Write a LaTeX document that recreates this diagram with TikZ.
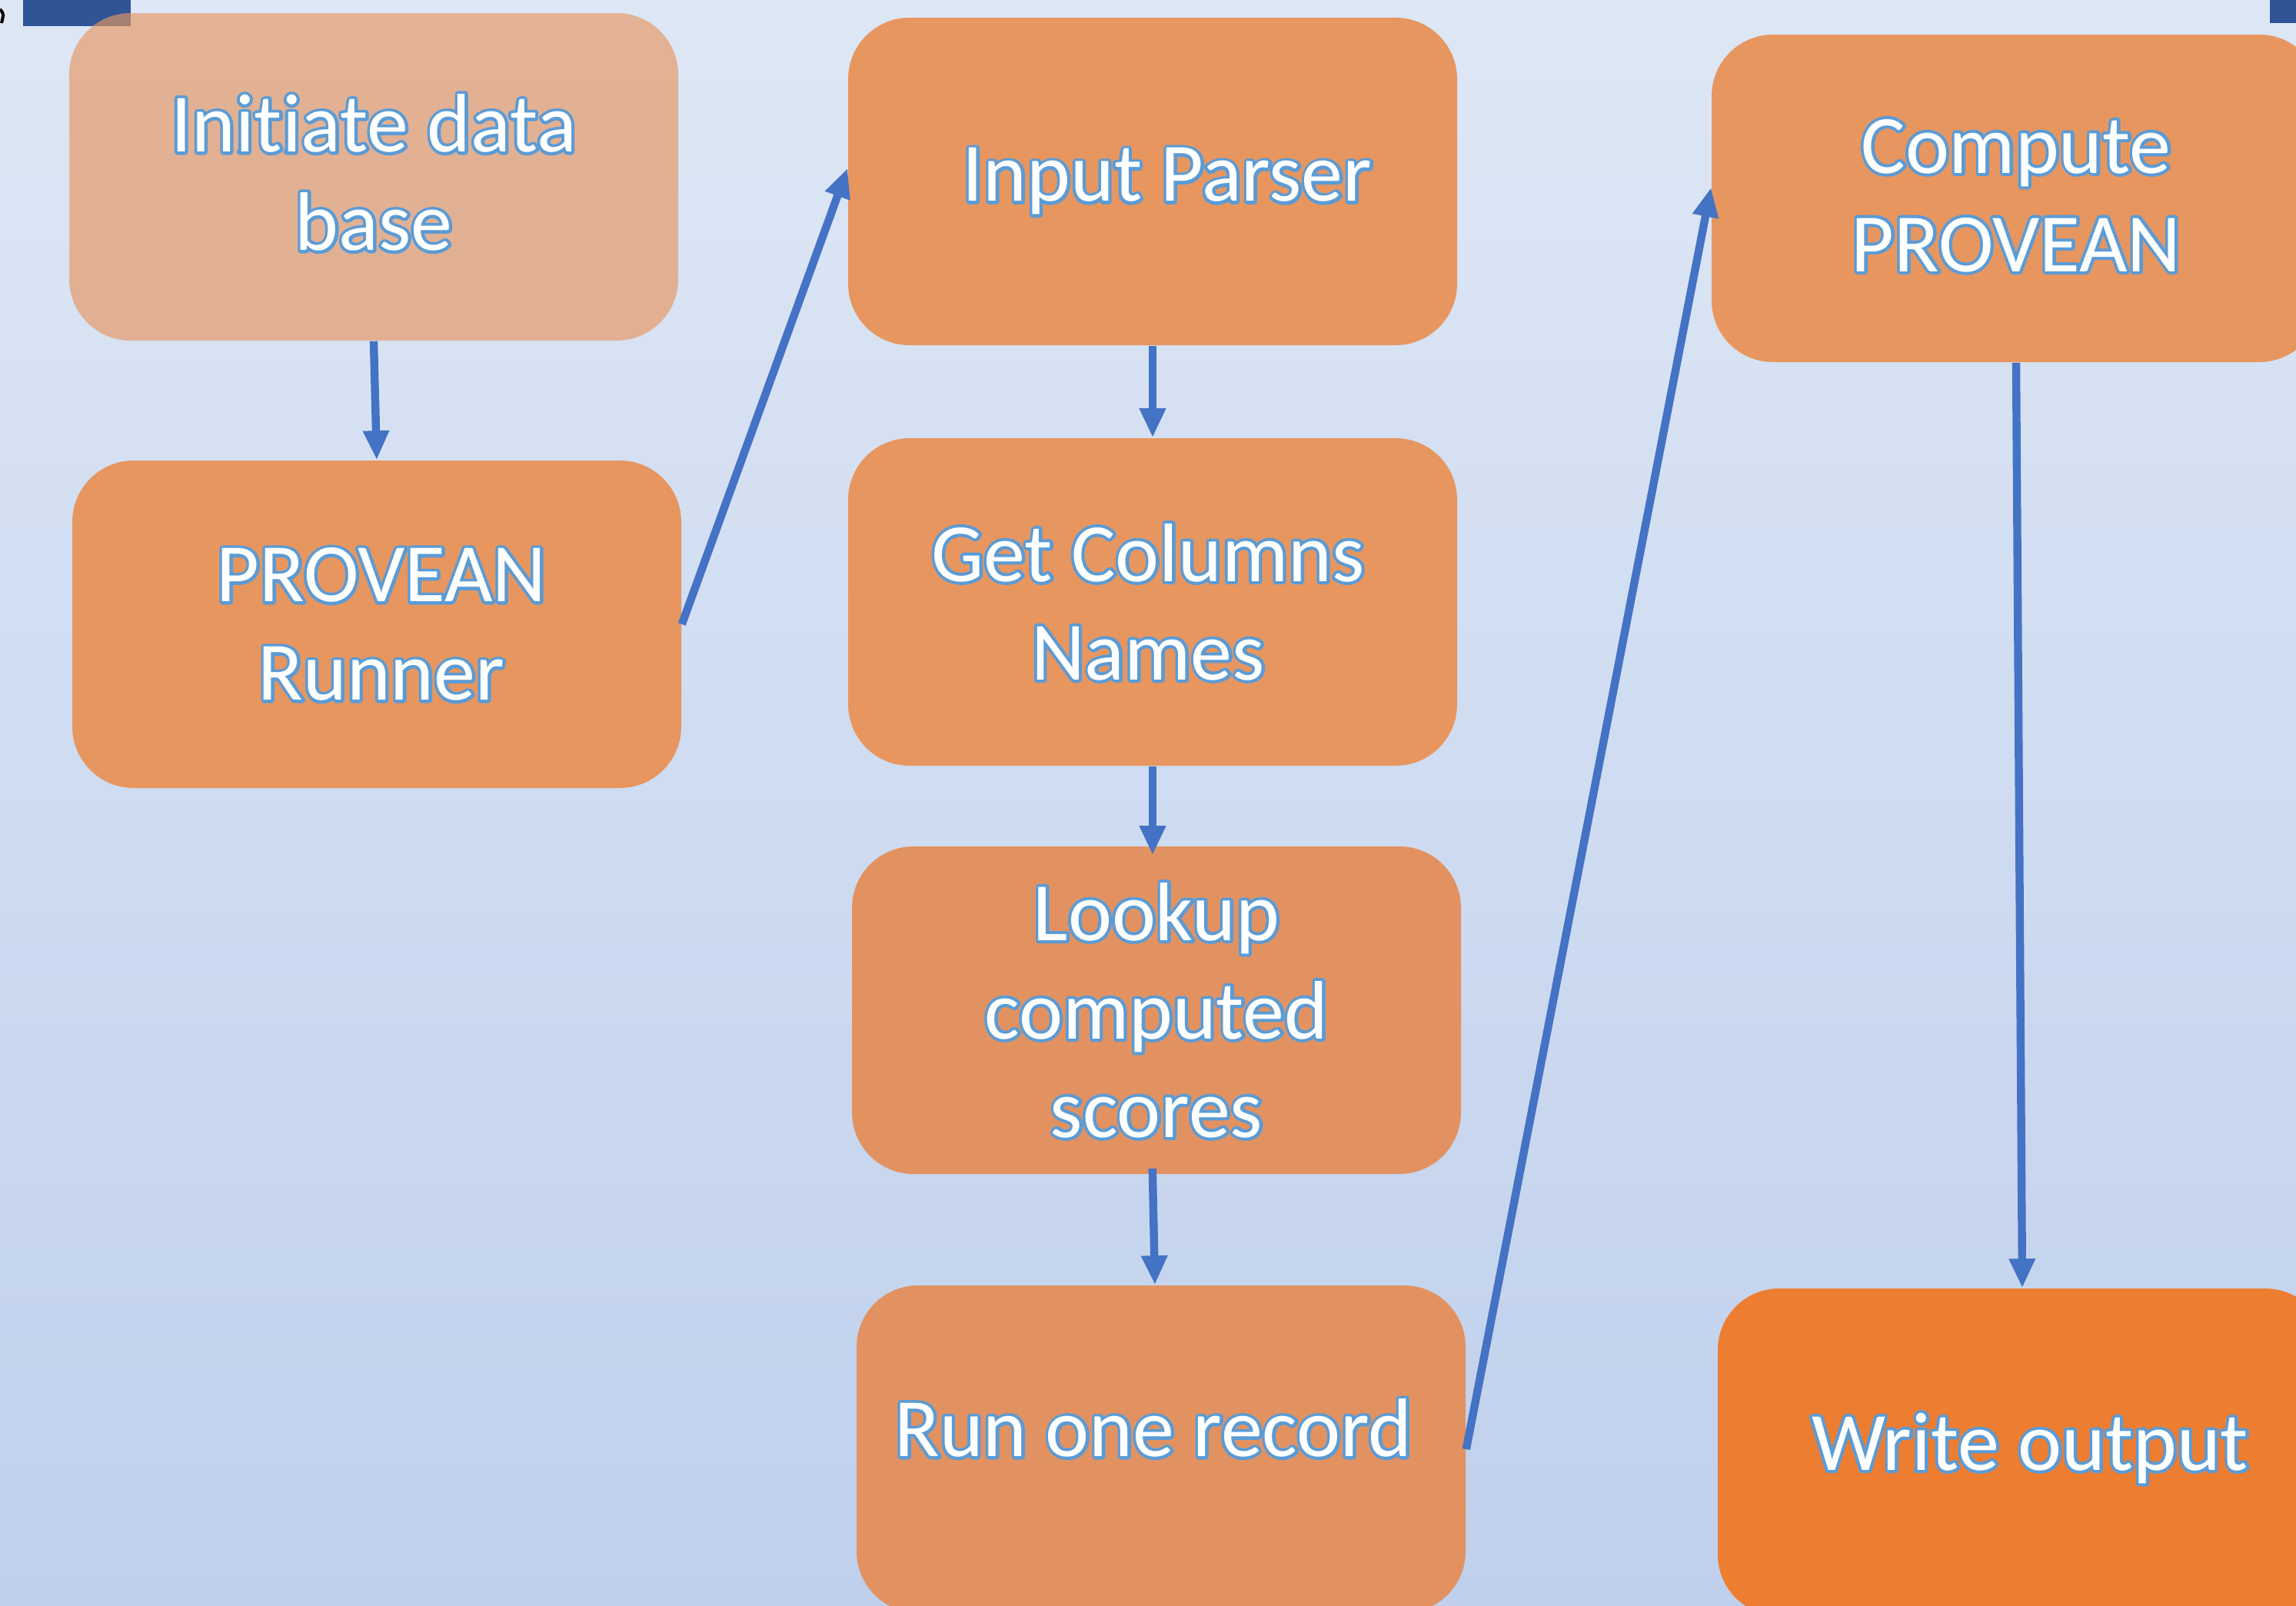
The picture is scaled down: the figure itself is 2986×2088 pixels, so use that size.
\documentclass[tikz,border=0pt]{standalone}
\usepackage{fontspec}
\setmainfont{Carlito}[Ligatures=NoCommon]
\usetikzlibrary{arrows.meta}
\definecolor{bgtop}{RGB}{221,231,245}
\definecolor{bgbot}{RGB}{192,208,236}
\definecolor{boxor}{RGB}{231,150,96}
\definecolor{boxor2}{RGB}{226,146,97}
\definecolor{boxstrong}{RGB}{237,125,49}
\definecolor{arrowblue}{RGB}{68,114,196}
\definecolor{olc}{RGB}{91,155,213}
\definecolor{darkrect}{RGB}{47,85,151}
% white text with a blue outline: a stroked copy under the filled text
\newcommand\ot[1]{\leavevmode\rlap{\special{pdf:literal direct 1 Tr 2 w 1 j 1 J}\textcolor{olc}{#1}\special{pdf:literal direct 0 Tr}}#1}
\begin{document}
\begin{tikzpicture}[x=0.25pt,y=-0.25pt,
  stepbox/.style={rectangle, rounded corners=20pt, minimum width=198pt, minimum height=106.5pt,
    fill=boxor, text=white, align=center, inner sep=0pt,
    font=\fontsize{27}{32}\selectfont},
  flow/.style={draw=arrowblue, line width=2.6pt, -{Triangle[length=9.5pt,width=8pt]}}]
\useasboundingbox (0,0) rectangle (2986,2088);
\clip (0,0) rectangle (2986,2088);
\shade[top color=bgtop,bottom color=bgbot] (0,0) rectangle (2986,2088);
% dark blue rectangles at the top edge
\fill[darkrect] (30,0) rectangle (170,34);
\fill[darkrect] (2952,0) rectangle (2986,30);
\draw[black, line width=1pt] (0,12) .. controls (5,18) .. (2,30);
% boxes
\node[stepbox, fill opacity=0.65, text opacity=1] (init) at (486,230) {\raisebox{3pt}{\ot{Initiate data}}\\\raisebox{3pt}{\ot{base}}};
\node[stepbox] (runner) at (490,812) {\hspace*{3pt}\ot{PROVEAN}\\\hspace*{3pt}\ot{Runner}};
\node[stepbox] (parser) at (1499,236) {\hspace*{9.5pt}\raisebox{1pt}{\ot{Input Parser}}};
\node[stepbox] (cols) at (1499,783) {\hspace*{-3pt}\ot{Get Columns}\\\hspace*{-3pt}\ot{Names}};
\node[stepbox, fill=boxor2] (lookup) at (1504,1314) {\ot{Lookup}\\\ot{computed}\\\ot{scores}};
\node[stepbox, fill=boxor2] (run) at (1510,1885) {\hspace*{-5pt}\raisebox{14pt}{\ot{Run one record}}};
\node[stepbox] (compute) at (2622,258) {\raisebox{2pt}{\ot{Compute}}\\\raisebox{2pt}{\ot{PROVEAN}}};
\node[stepbox, fill=boxstrong] (write) at (2630,1889) {\hspace*{5pt}\raisebox{7pt}{\ot{Write output}}};
% connectors
\draw[flow] (init.south) -- (runner.north);
\draw[flow] (runner.east) -- ([yshift=4.25pt]parser.west);
\draw[flow] (parser.south) -- (cols.north);
\draw[flow] (cols.south) -- ([yshift=-3pt]cols.south |- lookup.north);
\draw[flow] ([xshift=-1.3pt,yshift=2pt]lookup.south) -- ([xshift=-2pt]run.north);
\draw[flow] (run.east) -- ([yshift=3.5pt]compute.west);
\draw[flow] (compute.south) -- (write.north);
\end{tikzpicture}
\end{document}
